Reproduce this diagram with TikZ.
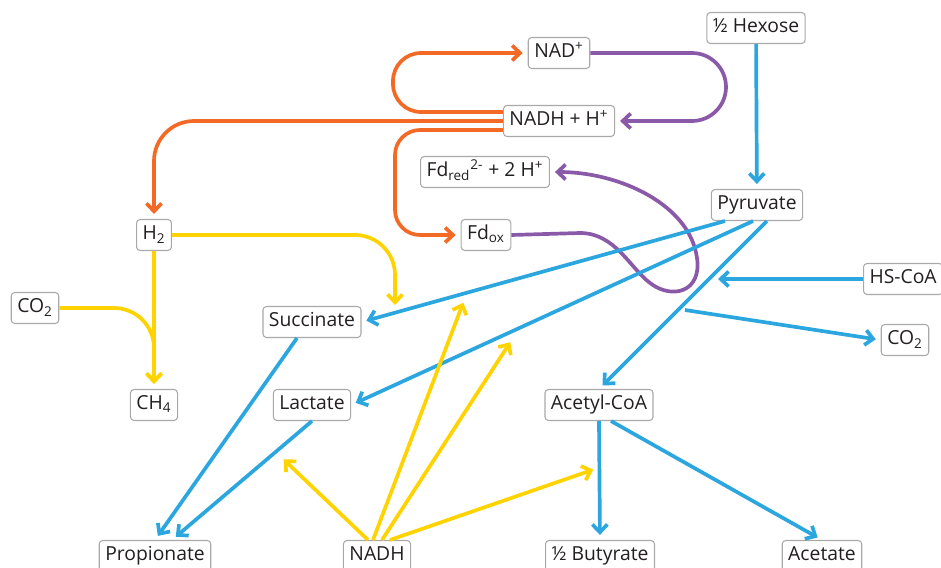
\documentclass[tikz,border=0pt]{standalone}
\usepackage{fontspec}
\setmainfont{Open Sans}
\usepackage{tikz}
\usetikzlibrary{arrows.meta}
\definecolor{Orange}{HTML}{F26A25}
\definecolor{Purple}{HTML}{8A5AA8}
\definecolor{Blue}{HTML}{2BA6DE}
\definecolor{Yellow}{HTML}{FFD300}
\definecolor{Border}{HTML}{A9A9A9}
\definecolor{Ink}{HTML}{231F20}
\tikzset{
    box/.style={draw=Border, fill=white, rounded corners=2pt, line width=0.6pt, text=Ink,
        font=\fontsize{11}{13}\selectfont, inner xsep=0.12cm, inner ysep=0pt,
        minimum height=0.62cm, text height=0.8em, text depth=0.25em},
    flow/.style={line width=2.1pt, shorten >=0.1cm, -{Straight Barb[length=4.5pt,width=8.5pt]}}
}

\begin{document}
\begin{tikzpicture}[x=0.02cm, y=-0.02cm]
        \useasboundingbox (0,0) rectangle (941,568);

        % substrate and product boxes
        \node[box] (Hex) at (756,28) {½ Hexose};
        \node[box] (Pyr) at (757,205) {Pyruvate};
        \node[box, anchor=west] (HSCoA) at (863,279) {HS-CoA};
        \node[box] (CO2b) at (905,340) {CO\textsubscript{2}};
        \node[box] (AcCoA) at (599,405) {Acetyl-CoA};
        \node[box] (Succ) at (312,322) {Succinate};
        \node[box] (Lac) at (312,405) {Lactate};
        \node[box] (H2) at (154,235) {H\textsubscript{2}};
        \node[box] (CO2a) at (35,308) {CO\textsubscript{2}};
        \node[box] (CH4) at (154,405) {CH\textsubscript{4}};
        \node[box] (Prop) at (155,556) {Propionate};
        \node[box] (NADHb) at (377,556) {NADH};
        \node[box] (But) at (600,556) {½ Butyrate};
        \node[box] (Acet) at (822,556) {Acetate};

        % carrier boxes
        \node[box] (NAD) at (559,53) {NAD\textsuperscript{+}};
        \node[box] (NADH) at (559,121) {NADH + H\textsuperscript{+}};
        \node[box] (Fdred) at (485,172) {Fd\textsubscript{red}\textsuperscript{2-} + 2 H\textsuperscript{+}};
        \node[box] (Fdox) at (486,235) {Fd\textsubscript{ox}};

        % free arrow ends
        \coordinate (toSucc) at (395,310);
        \coordinate (toHS) at (713,279);
        \coordinate (fromCO2) at (685,310);
        \coordinate (n1) at (280,456);
        \coordinate (n2) at (465,298);
        \coordinate (n3) at (513,338);
        \coordinate (n4) at (598,468);

        % orange edges
        \draw[flow, Orange, rounded corners=0.56cm] ([yshift=0.18cm]NADH.west) -- (393,112) -- (393,53) -- (NAD.west);
        \draw[flow, Orange, rounded corners=0.8cm] (NADH.west) -| (H2.north);
        \draw[flow, Orange, rounded corners=0.5cm] ([yshift=-0.18cm]NADH.west) -- (395,130) |- (Fdox.west);

        % purple edges
        \draw[flow, Purple, rounded corners=0.68cm] (NAD.east) -- (726,53) -- (726,121) -- (NADH.east);
        \draw[flow, Purple] (Fdox.east) -- (580,233) .. controls (615,233) and (630,268) .. (650,283)
            .. controls (672,300) and (702,292) .. (697,258) .. controls (690,205) and (620,172) .. (Fdred.east);

        % blue edges
        \draw[flow, Blue] (Hex) -- (Pyr);
        \draw[flow, Blue] ([xshift=-0.64cm]Pyr.south) -- (Succ.east);
        \draw[flow, Blue] ([xshift=-0.08cm]Pyr.south) -- (Lac.east);
        \draw[flow, Blue] ([xshift=0.2cm]Pyr.south) -- (AcCoA.north);
        \draw[flow, Blue] (HSCoA.west) -- (toHS);
        \draw[flow, Blue] (fromCO2) -- (CO2b.west);
        \draw[flow, Blue] ([xshift=-0.3cm]Succ.south) -- (Prop.north);
        \draw[flow, Blue] (Lac.south) -- ([xshift=0.34cm]Prop.north);
        \draw[flow, Blue] (AcCoA.south) -- (But.north);
        \draw[flow, Blue] ([xshift=0.24cm]AcCoA.south) -- (Acet.north);

        % yellow edges
        \draw[flow, Yellow, rounded corners=0.8cm] (H2.east) -| (toSucc);
        \draw[flow, Yellow] (H2.south) -- (CH4.north);
        \draw[flow, Yellow, rounded corners=0.8cm] (CO2a.east) -| (CH4.north);
        \draw[flow, Yellow] ([xshift=-0.18cm]NADHb.north) -- (n1);
        \draw[flow, Yellow] ([xshift=-0.08cm]NADHb.north) -- (n2);
        \draw[flow, Yellow] ([xshift=0.1cm]NADHb.north) -- (n3);
        \draw[flow, Yellow] ([xshift=0.26cm]NADHb.north) -- (n4);
   \end{tikzpicture}
\end{document}
